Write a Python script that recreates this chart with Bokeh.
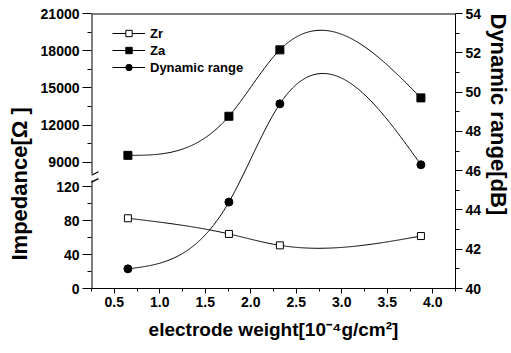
import numpy as np
from bokeh.plotting import figure
from bokeh.models import (Range1d, LinearAxis, FixedTicker, SingleIntervalTicker,
                          PrintfTickFormatter, Legend, LegendItem, Title)
from bokeh.embed import file_html
from bokeh.resources import INLINE

# electrode weight [1e-4 g/cm^2]
weight = [0.65, 1.76, 2.32, 3.87]
# impedance components [ohm]
zr = [83.0, 64.5, 51.0, 62.0]
za = [9570.0, 12720.0, 18070.0, 14200.0]
# dynamic range [dB]
dyn_range = [41.0, 44.4, 49.4, 46.3]

lower_ticks = [0, 40, 80, 120]
lower_minor = [20, 60, 100]
upper_ticks = [9000, 12000, 15000, 18000, 21000]
upper_minor = [10500, 13500, 16500, 19500]

FONT = "Liberation Sans"

# The impedance axis is broken: 0..120 ohm is drawn 1:1 in axis units,
# 9000..21000 ohm is compressed and stacked above it.
AXIS_TOP = 325
UPPER_BASE = 9000
UPPER_OFFSET = 149
UPPER_SCALE = 44 / 3000
BREAK_LO, BREAK_HI = 128, 135      # gap in the left axis line (axis units)

FRAME_W, FRAME_H = 365, 275
X_START, X_END = 0.25, 4.25


def upper_to_axis(v):
    return UPPER_OFFSET + (v - UPPER_BASE) * UPPER_SCALE


def natural_spline(x, y, n=300):
    x = np.asarray(x, float)
    y = np.asarray(y, float)
    k = len(x)
    h = np.diff(x)
    A = np.zeros((k, k))
    r = np.zeros(k)
    A[0, 0] = A[-1, -1] = 1.0
    for i in range(1, k - 1):
        A[i, i - 1] = h[i - 1]
        A[i, i] = 2 * (h[i - 1] + h[i])
        A[i, i + 1] = h[i]
        r[i] = 6 * ((y[i + 1] - y[i]) / h[i] - (y[i] - y[i - 1]) / h[i - 1])
    M = np.linalg.solve(A, r)
    xs = np.linspace(x[0], x[-1], n)
    idx = np.clip(np.searchsorted(x, xs) - 1, 0, k - 2)
    x0, x1 = x[idx], x[idx + 1]
    hh = x1 - x0
    a = (x1 - xs) / hh
    b = (xs - x0) / hh
    ys = a * y[idx] + b * y[idx + 1] + ((a ** 3 - a) * M[idx] + (b ** 3 - b) * M[idx + 1]) * hh ** 2 / 6
    return xs, ys


p = figure(width=511, height=353,
           x_range=Range1d(X_START, X_END), y_range=Range1d(0, AXIS_TOP),
           output_backend="svg", toolbar_location=None,
           min_border_left=91, min_border_right=55,
           min_border_top=13, min_border_bottom=65)

za_start = UPPER_BASE - UPPER_OFFSET / UPPER_SCALE
za_end = UPPER_BASE + (AXIS_TOP - UPPER_OFFSET) / UPPER_SCALE
p.extra_y_ranges = {"za": Range1d(za_start, za_end), "dr": Range1d(40, 54)}

p.xgrid.visible = False
p.ygrid.visible = False
p.outline_line_color = None
p.background_fill_color = "white"
p.border_fill_color = "white"


def style_axis(ax, major_out, minor_out):
    ax.axis_line_color = "black"
    ax.axis_line_width = 1
    ax.major_tick_line_color = "black"
    ax.minor_tick_line_color = "black"
    ax.major_tick_in = 0
    ax.major_tick_out = major_out
    ax.minor_tick_in = 0
    ax.minor_tick_out = minor_out
    ax.major_label_text_font = FONT
    ax.major_label_text_font_style = "bold"
    ax.major_label_text_font_size = "14px"
    ax.major_label_text_color = "black"
    ax.major_label_standoff = 3


# left: broken impedance axis (its line is drawn below, with a gap)
yax = p.yaxis[0]
tick_pos = list(lower_ticks) + [upper_to_axis(v) for v in upper_ticks]
minor_pos = list(lower_minor) + [upper_to_axis(v) for v in upper_minor]
yax.ticker = FixedTicker(ticks=tick_pos, minor_ticks=minor_pos)
yax.major_label_overrides = {upper_to_axis(v): str(v) for v in upper_ticks}
style_axis(yax, 9, 4)
yax.axis_line_color = None

# bottom: electrode weight
xax = p.xaxis[0]
xax.ticker = SingleIntervalTicker(interval=0.5, num_minor_ticks=2)
xax.formatter = PrintfTickFormatter(format="%.1f")
style_axis(xax, 5, 3)
xax.axis_label = "electrode weight[10\u207b\u2074g/cm\u00b2]"
xax.axis_label_text_font = FONT
xax.axis_label_text_font_style = "bold"
xax.axis_label_text_font_size = "19px"
xax.axis_label_text_color = "black"
xax.axis_label_standoff = 9

# right: dynamic range
rax = LinearAxis(y_range_name="dr", ticker=SingleIntervalTicker(interval=2, num_minor_ticks=2))
style_axis(rax, 7, 4)
p.add_layout(rax, "right")

# vertical axis titles
p.add_layout(Title(text="Impedance[\u03a9 ]", align="left", offset=28,
                   vertical_align="top", standoff=7,
                   text_font=FONT, text_font_style="bold", text_font_size="22px",
                   text_color="black"), "left")
p.add_layout(Title(text="Dynamic range[dB]", align="left", offset=0,
                   vertical_align="middle", standoff=0,
                   text_font=FONT, text_font_style="bold", text_font_size="22px",
                   text_color="black"), "right")

# frame: left line with a gap at the axis break, and the top border
px_x = (X_END - X_START) / FRAME_W          # data units per pixel
px_y = AXIS_TOP / FRAME_H
p.segment(x0=[X_START, X_START, X_START], y0=[0, BREAK_HI, AXIS_TOP],
          x1=[X_START, X_START, X_END], y1=[BREAK_LO, AXIS_TOP, AXIS_TOP],
          line_color="black", line_width=2)
# break marks
mark_dx, mark_dy = 7 * px_x, 3.5 * px_y
p.segment(x0=[X_START, X_START], y0=[BREAK_LO - 2 * px_y, BREAK_HI - 1 * px_y],
          x1=[X_START + mark_dx] * 2,
          y1=[BREAK_LO - 2 * px_y + mark_dy, BREAK_HI - 1 * px_y + mark_dy],
          line_color="black", line_width=1.3)

# curves
xs, ys = natural_spline(weight, zr)
zr_line = p.line(xs, ys, line_color="black", line_width=1)
zr_pts = p.scatter(weight, zr, marker="square", size=7, fill_color="white",
                   line_color="black", line_width=1)

xs, ys = natural_spline(weight, za)
za_line = p.line(xs, ys, line_color="black", line_width=1, y_range_name="za")
za_pts = p.scatter(weight, za, marker="square", size=8, fill_color="black",
                   line_color="black", y_range_name="za")

xs, ys = natural_spline(weight, dyn_range)
dr_line = p.line(xs, ys, line_color="black", line_width=1, y_range_name="dr")
dr_pts = p.scatter(weight, dyn_range, marker="circle", size=8, fill_color="black",
                   line_color="black", y_range_name="dr")

legend = Legend(items=[LegendItem(label="Zr", renderers=[zr_line, zr_pts]),
                       LegendItem(label="Za", renderers=[za_line, za_pts]),
                       LegendItem(label="Dynamic range", renderers=[dr_line, dr_pts])],
                location=(21, 213), margin=0, padding=0, spacing=1,
                glyph_width=33, glyph_height=16, label_height=16, label_standoff=5,
                border_line_color=None, background_fill_alpha=0,
                label_text_font=FONT, label_text_font_style="bold",
                label_text_font_size="13px", label_text_color="black")
p.add_layout(legend)

open("out.html", "w").write(file_html(p, INLINE))
